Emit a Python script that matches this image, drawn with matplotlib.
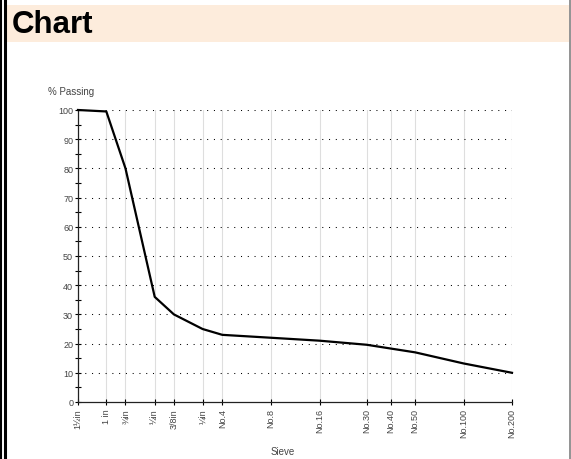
import matplotlib
matplotlib.use('Agg')
import matplotlib.pyplot as plt
from matplotlib.patches import Rectangle
from matplotlib.lines import Line2D
from matplotlib.ticker import FixedLocator, NullLocator, MultipleLocator

plt.rcParams['font.family'] = ['Liberation Sans', 'DejaVu Sans']

# sieve labels and opening sizes in mm (log x axis)
sieves = ['1½in', '1 in', '¾in', '½in', '3/8in', '¼in', 'No.4', 'No.8', 'No.16',
          'No.30', 'No.40', 'No.50', 'No.100', 'No.200']
sizes = [37.5, 25.0, 19.0, 12.5, 9.5, 6.3, 4.75, 2.36, 1.18, 0.6, 0.425, 0.3, 0.15, 0.075]
passing = [100, 99.5, 80, 36, 30, 25, 23, 22, 21, 19.6, 18.3, 17, 13.2, 10]

fig = plt.figure(figsize=(5.71, 4.60), dpi=100)

# page frame and header band
fig.add_artist(Line2D([0.5/571, 0.5/571], [0, 1], color='black', lw=1.5, transform=fig.transFigure))
fig.add_artist(Line2D([5/571, 5/571], [0, 1], color='black', lw=2.2, transform=fig.transFigure))
fig.add_artist(Line2D([569.5/571, 569.5/571], [0, 1], color='#808080', lw=1.2, transform=fig.transFigure))
fig.add_artist(Rectangle((7/571, 1 - 43/460), 562/571, 37/460, transform=fig.transFigure,
                         facecolor='#fdecdc', edgecolor='none'))
fig.text(12/571, 1 - 25/460, 'Chart', fontsize=22.5, fontweight='bold', va='center', ha='left')

ax = fig.add_axes([78/571, 57/460, 434/571, 292/460])
ax.set_xscale('log')
ax.set_xlim(sizes[0], sizes[-1])
ax.set_ylim(0, 100)

# grid
for s in sizes:
    ax.axvline(s, color='#dedede', lw=0.8, zorder=0)
for v in range(10, 101, 10):
    ax.axhline(v, color='black', lw=0.75, ls=(0, (1, 5.5)), zorder=1)

ax.plot(sizes, passing, color='black', lw=1.6, zorder=3, clip_on=False)

ax.xaxis.set_major_locator(FixedLocator(sizes))
ax.xaxis.set_minor_locator(NullLocator())
ax.set_xticklabels(sieves, rotation=90, fontsize=6.5, color='#444444')
ax.yaxis.set_major_locator(MultipleLocator(10))
ax.yaxis.set_minor_locator(MultipleLocator(5))
ax.tick_params(axis='y', which='major', labelsize=6.5, labelcolor='#444444',
               direction='inout', length=5, width=0.8, pad=1)
ax.tick_params(axis='y', which='minor', direction='inout', length=4, width=0.8)
ax.tick_params(axis='x', which='major', direction='inout', length=5, width=0.8, pad=2)

for sp in ['top', 'right']:
    ax.spines[sp].set_visible(False)
for sp in ['left', 'bottom']:
    ax.spines[sp].set_linewidth(0.9)
    ax.spines[sp].set_color('#222222')

fig.text(48/571, 1 - 92/460, '% Passing', fontsize=7, color='#444444', va='center', ha='left')
fig.text(283/571, 1 - 452/460, 'Sieve', fontsize=7, color='#444444', va='center', ha='center')

fig.savefig('out.png', dpi=100)
